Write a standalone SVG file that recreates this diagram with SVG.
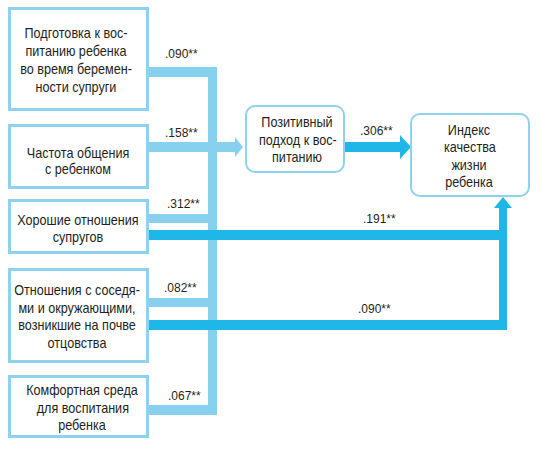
<svg xmlns="http://www.w3.org/2000/svg" width="542" height="454" viewBox="0 0 542 454">
<style>
.box{fill:#fff;stroke:#8ed2ef;stroke-width:3}
.rbox{fill:#fff;stroke:#8ed2ef;stroke-width:2}
.t{font-family:"Liberation Sans",Arial,sans-serif;font-size:14.5px;fill:#231f20;text-anchor:middle}
.l{font-family:"Liberation Sans",Arial,sans-serif;font-size:12px;fill:#231f20;text-anchor:start}
.lt{fill:#87d0ee}
.dk{fill:#1fb7e8}
</style>
<rect width="542" height="454" fill="#fff"/>
<g id="connectors">
<rect class="lt" x="148" y="67" width="69" height="10"/>
<rect class="lt" x="208" y="67" width="9" height="348"/>
<rect class="lt" x="148" y="142" width="88" height="10"/>
<polygon class="lt" points="235,137 243,147 235,157"/>
<rect class="lt" x="148" y="214" width="69" height="9"/>
<rect class="lt" x="148" y="298" width="69" height="9"/>
<rect class="lt" x="148" y="405" width="69" height="10"/>
<rect class="dk" x="344" y="142" width="57" height="10"/>
<polygon class="dk" points="400,135 411,147 400,159"/>
<rect class="dk" x="148" y="230" width="359" height="10"/>
<rect class="dk" x="148" y="320" width="359" height="10"/>
<rect class="dk" x="499" y="207" width="8" height="123"/>
<polygon class="dk" points="494,208 503,197 512,208"/>
<text class="l" x="165" y="58">.090**</text>
<text class="l" x="165" y="137">.158**</text>
<text class="l" x="167" y="208">.312**</text>
<text class="l" x="164" y="292">.082**</text>
<text class="l" x="168" y="400">.067**</text>
<text class="l" x="360" y="135">.306**</text>
<text class="l" x="363" y="223">.191**</text>
<text class="l" x="358" y="313">.090**</text>
</g>
<g id="n1">
<rect class="box" x="9.5" y="8.5" width="138" height="101"/>
<g transform="translate(76 0) scale(0.87 1)">
<text class="t" x="0" y="38">Подготовка к вос-</text>
<text class="t" x="0" y="56">питанию ребенка</text>
<text class="t" x="0" y="74">во время беремен-</text>
<text class="t" x="0" y="92">ности супруги</text>
</g>
</g>
<g id="n2">
<rect class="box" x="9.5" y="125.5" width="138" height="62"/>
<g transform="translate(78 0) scale(0.87 1)">
<text class="t" x="0" y="158">Частота общения</text>
<text class="t" x="0" y="174">с ребенком</text>
</g>
</g>
<g id="n3">
<rect class="box" x="9.5" y="200.5" width="138" height="52"/>
<g transform="translate(78 0) scale(0.87 1)">
<text class="t" x="0" y="225">Хорошие отношения</text>
<text class="t" x="0" y="242">супругов</text>
</g>
</g>
<g id="n4">
<rect class="box" x="9.5" y="269.5" width="138" height="92"/>
<g transform="translate(77 0) scale(0.87 1)">
<text class="t" x="0" y="295">Отношения с соседя-</text>
<text class="t" x="0" y="313">ми и окружающими,</text>
<text class="t" x="0" y="330">возникшие на почве</text>
<text class="t" x="0" y="348">отцовства</text>
</g>
</g>
<g id="n5">
<rect class="box" x="9.5" y="376.5" width="138" height="60"/>
<g transform="translate(82 0) scale(0.87 1)">
<text class="t" x="0" y="395">Комфортная среда</text>
<text class="t" x="1" y="413">для воспитания</text>
<text class="t" x="0" y="430">ребенка</text>
</g>
</g>
<g id="n6">
<rect class="rbox" x="246" y="106" width="98" height="66" rx="9"/>
<g transform="translate(297 0) scale(0.87 1)">
<text class="t" x="0" y="127">Позитивный</text>
<text class="t" x="1" y="145">подход к вос-</text>
<text class="t" x="0" y="162">питанию</text>
</g>
</g>
<g id="n7">
<rect class="rbox" x="411" y="114" width="118" height="82" rx="9"/>
<g transform="translate(469 0) scale(0.87 1)">
<text class="t" x="0" y="135">Индекс</text>
<text class="t" x="1" y="152">качества</text>
<text class="t" x="0" y="170">жизни</text>
<text class="t" x="0" y="187">ребенка</text>
</g>
</g>
</svg>
